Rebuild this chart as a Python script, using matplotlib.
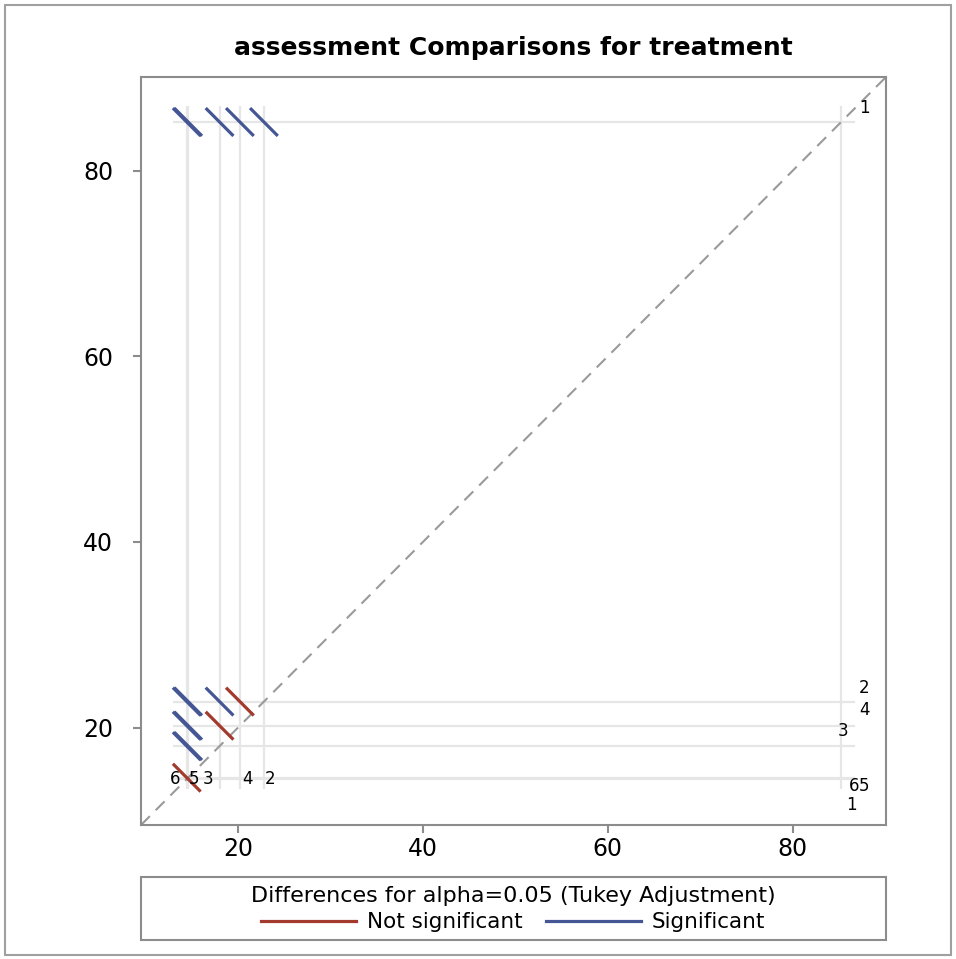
import matplotlib
matplotlib.use('Agg')
import matplotlib.pyplot as plt
from matplotlib.patches import Rectangle
from matplotlib.lines import Line2D

# ---------------- data ----------------
levels = ['1', '2', '3', '4', '5', '6']
lsmeans = [85.25, 22.8, 18.0, 20.2, 14.6, 14.45]
ci_halfwidth = 3.0          # Tukey-adjusted half-width of the CI of a difference
ticks = [20, 40, 60, 80]
title = 'assessment Comparisons for treatment'
legend_title = 'Differences for alpha=0.05 (Tukey Adjustment)'
legend_labels = ['Not significant', 'Significant']

# ---------------- style ----------------
RED = '#A23A2E'
BLUE = '#445694'
GRID = '#E6E6E6'
AXC = '#8C8C8C'
lo_lim, hi_lim = 9.5, 90.1

# label offsets (pixels) for the bottom and right level labels
bottom_off = {'1': (10, -26), '2': (6, 0), '3': (-12, 0), '4': (8, 0), '5': (6, 0), '6': (-12, 0)}
right_off = {'1': (23, 14), '2': (23, 14), '3': (2, 15), '4': (23, 16), '5': (23, -8), '6': (13, -7)}

fig = plt.figure(figsize=(9.56, 9.59), dpi=100)
ax = fig.add_axes([141 / 956, 1 - 825 / 959, 745 / 956, 748 / 959])

h = ci_halfwidth / 2.0
mn, mx = min(lsmeans), max(lsmeans)
ref_lo, ref_hi = mn - h, mx + h

# reference lines
for m in lsmeans:
    ax.plot([m, m], [ref_lo + 0.4, ref_hi + 0.2], color=GRID, lw=1.6, zorder=1, solid_capstyle='butt')
    ax.plot([ref_lo, ref_hi], [m, m], color=GRID, lw=1.6, zorder=1, solid_capstyle='butt')

# diagonal
ax.plot([lo_lim, hi_lim], [lo_lim, hi_lim], color='#9A9A9A', lw=1.5, ls=(0, (6, 4)), zorder=2)

# segments
n = len(levels)
for i in range(n):
    for j in range(n):
        if i == j:
            continue
        mi, mj = lsmeans[i], lsmeans[j]
        if mi > mj or (mi == mj and i < j):
            sig = abs(mi - mj) > ci_halfwidth
            col = BLUE if sig else RED
            ax.plot([mj - h, mj + h], [mi + h, mi - h], color=col, lw=2.3, zorder=3,
                     solid_capstyle='butt')

# level labels
for lev, m in zip(levels, lsmeans):
    dx, dy = bottom_off[lev]
    ax.annotate(lev, (m, mn), xytext=(dx, dy), textcoords='offset pixels',
                ha='center', va='center', fontsize=12, zorder=4)
    dx, dy = right_off[lev]
    ax.annotate(lev, (mx, m), xytext=(dx, dy), textcoords='offset pixels',
                ha='center', va='center', fontsize=12, zorder=4)

ax.set_xlim(lo_lim, hi_lim)
ax.set_ylim(lo_lim, hi_lim)
ax.set_xticks(ticks)
ax.set_yticks(ticks)
for s in ax.spines.values():
    s.set_color(AXC)
    s.set_linewidth(1.5)
ax.tick_params(axis='both', colors=AXC, labelcolor='black', length=6, width=1.5, labelsize=17)
ax.tick_params(axis='y', pad=14)
ax.tick_params(axis='x', pad=3)

fig.text(513 / 956, 1 - 48 / 959, title, ha='center', va='center', fontsize=18, fontweight='bold')

# legend box
fig.patches.append(Rectangle((141 / 956, 1 - 940 / 959), 745 / 956, 63 / 959,
                             transform=fig.transFigure, fill=False, edgecolor=AXC, lw=1.5))
handles = [Line2D([], [], color=RED, lw=2.3), Line2D([], [], color=BLUE, lw=2.3)]
leg = fig.legend(handles, legend_labels, title=legend_title, ncol=2, frameon=False,
                 loc='center', bbox_to_anchor=(513 / 956, 1 - 909 / 959),
                 fontsize=15.5, title_fontsize=16, handlelength=4.4, handletextpad=0.5,
                 columnspacing=1.1, borderpad=0.0, labelspacing=0.2)
leg._legend_box.sep = 5

# outer border
fig.patches.append(Rectangle((5 / 956, 4 / 959), 946 / 956, 950 / 959,
                             transform=fig.transFigure, fill=False, edgecolor='#A0A0A0', lw=1.5))

fig.savefig('out.png', dpi=100)
